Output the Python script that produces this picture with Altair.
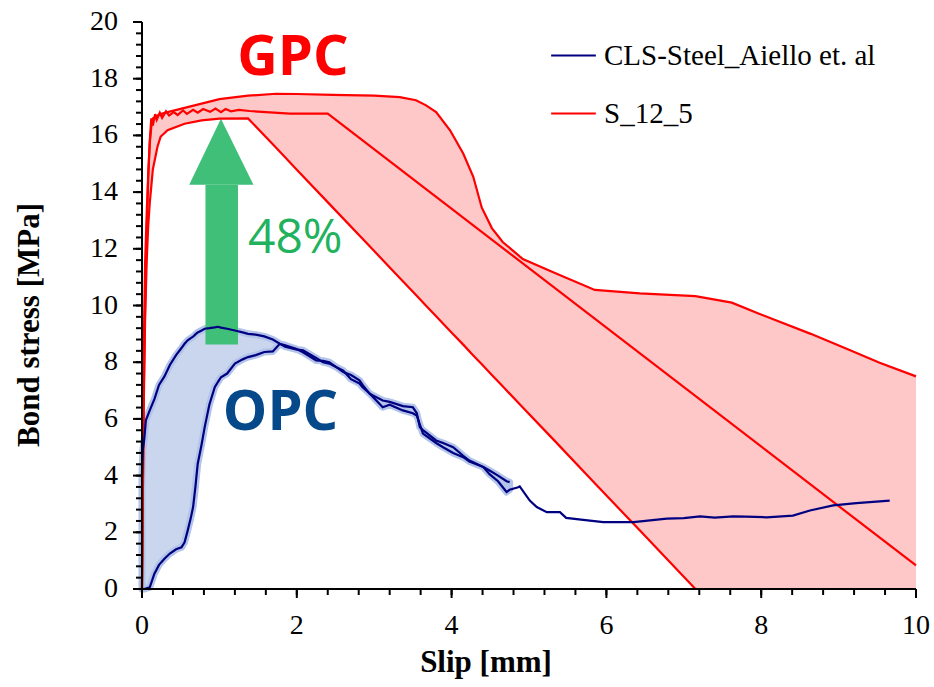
import altair as alt
import pandas as pd

# ---------------- S_12_5 (GPC): envelope grid, upper and lower curves ----------------
red_x = [0.0, 0.01, 0.02, 0.04, 0.06, 0.08, 0.10, 0.12, 0.14, 0.20, 0.24, 0.33, 0.55, 0.77, 1.00,
         1.37, 1.73, 2.00, 2.46, 3.00, 3.33, 3.54, 3.67, 3.80, 3.98, 4.15, 4.28, 4.39, 4.52, 4.66,
         4.92, 5.32, 5.85, 6.43, 7.15, 7.62, 7.98, 8.64, 9.08, 9.53, 10.0]
red_upper = [0, 4, 8, 11.5, 13.2, 14.6, 15.7, 16.3, 16.6, 16.7, 16.75, 16.82, 16.97, 17.12, 17.28,
             17.4, 17.47, 17.46, 17.43, 17.4, 17.35, 17.24, 17.06, 16.82, 16.18, 15.36, 14.54, 13.45, 12.73, 12.24,
             11.64, 11.16, 10.55, 10.43, 10.33, 10.1, 9.7, 9.0, 8.5, 7.98, 7.5]
red_lower = [0, 3, 6, 9.5, 11.5, 12.8, 13.6, 14.2, 14.8, 15.6, 15.95, 16.18, 16.41, 16.53, 16.59,
             16.6, 15.57, 14.79, 13.47, 11.92, 10.97, 10.37, 9.99, 9.62, 9.10, 8.62, 8.24, 7.93, 7.55, 7.15,
             6.40, 5.26, 3.73, 2.07, 0, 0, 0, 0, 0, 0, 0]
red_lower_end = 7.15  # the lower curve stops where it meets the slip axis

# middle curve
red_mid_x = [0.0, 0.01, 0.02, 0.04, 0.06, 0.08, 0.10, 0.12, 0.14, 0.17, 0.19, 0.23, 0.26, 0.31, 0.35,
             0.41, 0.46, 0.53, 0.58, 0.66, 0.72, 0.79, 0.88, 0.95, 1.02, 1.08, 1.15, 1.25, 1.39, 1.91,
             2.40, 10.0]
red_mid_y = [0, 3, 6.5, 10, 12.5, 14.5, 15.8, 16.6, 16.35, 16.75, 16.55, 16.8, 16.62, 16.85, 16.7,
             16.82, 16.72, 16.88, 16.76, 16.9, 16.8, 16.93, 16.83, 16.95, 16.82, 16.93, 16.85, 16.9, 16.86, 16.77,
             16.77, 0.83]

# ---------------- CLS-Steel_Aiello et. al (OPC) ----------------
blue_x = [0.00, 0.01, 0.03, 0.05, 0.10, 0.16, 0.22, 0.29, 0.36, 0.44, 0.51, 0.55, 0.59, 0.63, 0.66,
          0.69, 0.72, 0.77, 0.81, 0.87, 0.94, 0.98, 1.02, 1.10, 1.20, 1.30, 1.37, 1.47, 1.58, 1.69,
          1.78, 1.85, 1.99, 2.08, 2.25, 2.34, 2.42, 2.60, 2.70, 2.81, 2.85, 2.94, 3.11, 3.20, 3.37,
          3.50, 3.55, 3.59, 3.63, 3.80, 3.89, 4.02, 4.15, 4.23, 4.41, 4.49, 4.60, 4.71, 4.75]
blue_upper = [4.0, 4.9, 5.3, 5.95, 6.3, 6.7, 7.2, 7.5, 7.9, 8.25, 8.5, 8.65, 8.77, 8.85, 8.9,
              8.98, 9.05, 9.12, 9.18, 9.2, 9.23, 9.25, 9.22, 9.18, 9.12, 9.05, 9.0, 8.97, 8.91, 8.8,
              8.65, 8.6, 8.47, 8.35, 8.06, 8.05, 8.0, 7.65, 7.55, 7.36, 7.2, 6.89, 6.65, 6.6, 6.45,
              6.41, 6.2, 5.71, 5.6, 5.24, 5.15, 5.0, 4.7, 4.53, 4.3, 4.18, 4.0, 3.8, 3.77]
blue_lower = [0.0, 0.0, 0.0, 0.02, 0.06, 0.54, 0.85, 1.07, 1.25, 1.4, 1.47, 1.65, 2.06, 2.5, 2.89,
              3.6, 4.42, 5.1, 5.71, 6.5, 7.12, 7.3, 7.47, 7.6, 7.95, 8.1, 8.18, 8.25, 8.36, 8.38,
              8.65, 8.55, 8.45, 8.42, 8.15, 8.0, 7.95, 7.7, 7.4, 7.25, 7.12, 6.9, 6.41, 6.5, 6.3,
              6.2, 6.12, 5.8, 5.48, 5.15, 5.0, 4.8, 4.65, 4.5, 4.3, 4.05, 3.8, 3.42, 3.5]
blue_tail_x = [4.86, 4.88, 5.01, 5.10, 5.23, 5.40, 5.48, 5.70, 5.96, 6.35, 6.78, 7.00, 7.21, 7.40,
               7.64, 7.80, 8.07, 8.41, 8.63, 8.93, 9.23, 9.66]
blue_tail_y = [3.59, 3.62, 3.12, 2.89, 2.71, 2.71, 2.51, 2.44, 2.36, 2.36, 2.48, 2.50, 2.56, 2.52,
               2.56, 2.55, 2.53, 2.59, 2.77, 2.95, 3.03, 3.12]

series_names = ["CLS-Steel_Aiello et. al", "S_12_5"]
series_colors = ["#000080", "#ff0000"]

# arrow (48 % increase) and annotations
arrow_shaft = {"x": [0.82], "x2": [1.24], "y": [8.62], "y2": [14.26]}
arrow_head = {"x": [0.61, 1.02, 1.44], "y": [14.26, 16.59, 14.26], "y2": [14.26, 14.26, 14.26]}
gpc_label = {"x": [1.95], "y": [18.72], "t": ["GPC"]}
opc_label = {"x": [1.79], "y": [6.2], "t": ["OPC"]}
pct_label = {"x": [1.98], "y": [12.35], "t": ["48%"]}

# axis extents, tick positions, tick labels and titles
x_range = [0, 10]
y_range = [0, 20]
x_major = [0, 2, 4, 6, 8, 10]
y_major = [0, 2, 4, 6, 8, 10, 12, 14, 16, 18, 20]
x_tick_labels = ["0", "2", "4", "6", "8", "10"]
y_tick_labels = ["0", "2", "4", "6", "8", "10", "12", "14", "16", "18", "20"]
x_minor = [round(i * 0.4, 1) for i in range(26)]
y_minor = [round(i * 0.4, 1) for i in range(51)]
x_title = "Slip [mm]"
y_title = "Bond stress [MPa]"

SERIF = "Liberation Serif"
PLOT_W, PLOT_H = 774, 567
TICK_MAJOR, TICK_MINOR = 9, 6  # outward tick lengths in pixels

# ---------------- tables ----------------
red_band = pd.DataFrame({"x": red_x, "hi": red_upper, "lo": red_lower})
blue_band = pd.DataFrame({"x": blue_x, "hi": blue_upper, "lo": blue_lower})

rows = []
def add(curve, series, xs, ys):
    for i, (a, b) in enumerate(zip(xs, ys)):
        rows.append({"x": a, "y": b, "curve": curve, "series": series, "i": i})

add("A", "S_12_5", red_x, red_upper)
add("C", "S_12_5", [a for a in red_x if a <= red_lower_end],
    [b for a, b in zip(red_x, red_lower) if a <= red_lower_end])
add("B", "S_12_5", red_mid_x, red_mid_y)
add("U", "CLS-Steel_Aiello et. al", blue_x, blue_upper)
add("L", "CLS-Steel_Aiello et. al", blue_x + blue_tail_x, blue_lower + blue_tail_y)
lines = pd.DataFrame(rows)

# ---------------- scales ----------------
xscale = alt.Scale(domain=x_range, nice=False, zero=False)
yscale = alt.Scale(domain=y_range, nice=False, zero=False)

def X(f):
    return alt.X(f"{f}:Q", scale=xscale, axis=None)

def Y(f):
    return alt.Y(f"{f}:Q", scale=yscale, axis=None)

red_area = alt.Chart(red_band).mark_area(color="#ffc8c8").encode(
    x=X("x"), y=Y("hi"), y2="lo:Q")
blue_area = alt.Chart(blue_band).mark_area(
    fill="#c9d6ee", stroke="#b2c4e9", strokeWidth=7, strokeJoin="round"
).encode(x=X("x"), y=Y("hi"), y2="lo:Q")

shaft = alt.Chart(pd.DataFrame(arrow_shaft)).mark_rect(color="#3fbf78").encode(
    x=X("x"), x2="x2:Q", y=Y("y"), y2="y2:Q")
head = alt.Chart(pd.DataFrame(arrow_head)).mark_area(color="#3fbf78").encode(
    x=X("x"), y=Y("y"), y2="y2:Q")

line_layer = alt.Chart(lines).mark_line(strokeWidth=2.2).encode(
    x=X("x"), y=Y("y"),
    color=alt.Color("series:N", scale=alt.Scale(domain=series_names, range=series_colors),
                    legend=alt.Legend(title=None, orient="none", legendX=408, legendY=10,
                                      symbolType="stroke", symbolSize=2000, symbolStrokeWidth=2,
                                      labelFont=SERIF, labelFontSize=29, labelColor="black",
                                      rowPadding=19, labelOffset=7, padding=0, labelLimit=400)),
    detail="curve:N", order="i:Q")

def label(d, color, size, weight):
    return alt.Chart(pd.DataFrame(d)).mark_text(
        font="Open Sans", fontSize=size, fontWeight=weight, color=color,
        align="center", baseline="middle").encode(x=X("x"), y=Y("y"), text="t:N")

# ---------------- tick labels and titles ----------------
x_labels = alt.Chart(pd.DataFrame({"v": x_major, "t": x_tick_labels, "z": [y_range[0]] * len(x_major)})
                     ).mark_text(font=SERIF, fontSize=28, color="black", align="center",
                                 baseline="middle", dy=37).encode(x=X("v"), y=Y("z"), text="t:N")
y_labels = alt.Chart(pd.DataFrame({"v": y_major, "t": y_tick_labels, "z": [x_range[0]] * len(y_major)})
                     ).mark_text(font=SERIF, fontSize=28, color="black", align="right",
                                 baseline="middle", dx=-24).encode(y=Y("v"), x=X("z"), text="t:N")
x_title_mark = alt.Chart(pd.DataFrame({"t": [x_title]})).mark_text(
    font=SERIF, fontSize=31, fontWeight="bold", color="black", align="center", baseline="middle"
).encode(x=alt.value(344), y=alt.value(641), text="t:N")
y_title_mark = alt.Chart(pd.DataFrame({"t": [y_title]})).mark_text(
    font=SERIF, fontSize=31, fontWeight="bold", color="black", align="center", baseline="middle",
    angle=270
).encode(x=alt.value(-112), y=alt.value(303), text="t:N")

# ---------------- axis lines and ticks (thin rectangles, drawn last) ----------------
frame = pd.DataFrame({"x0": [x_range[0]], "x1": [x_range[1]], "y0": [y_range[0]], "y1": [y_range[1]]})
x_line = alt.Chart(frame).mark_rect(color="black", yOffset=-1, y2Offset=1).encode(
    x=X("x0"), x2="x1:Q", y=Y("y0"), y2="y0:Q")
y_line = alt.Chart(frame).mark_rect(color="black", xOffset=-1, x2Offset=1).encode(
    x=X("x0"), x2="x0:Q", y=Y("y0"), y2="y1:Q")

def xticks(vals, length):
    d = pd.DataFrame({"v": vals, "z": [y_range[0]] * len(vals)})
    return alt.Chart(d).mark_rect(color="black", xOffset=-1, x2Offset=1, y2Offset=length).encode(
        x=X("v"), x2="v:Q", y=Y("z"), y2="z:Q")

def yticks(vals, length):
    d = pd.DataFrame({"v": vals, "z": [x_range[0]] * len(vals)})
    return alt.Chart(d).mark_rect(color="black", yOffset=-1, y2Offset=1, xOffset=-length).encode(
        y=Y("v"), y2="v:Q", x=X("z"), x2="z:Q")

chart = alt.layer(
    red_area, blue_area, shaft, head, line_layer,
    label(gpc_label, "#ff0000", 56, "bold"),
    label(opc_label, "#05498a", 56, "bold"),
    label(pct_label, "#22b25e", 48, "normal"),
    x_labels, y_labels, x_title_mark, y_title_mark,
    xticks(x_minor, TICK_MINOR), xticks(x_major, TICK_MAJOR),
    yticks(y_minor, TICK_MINOR), yticks(y_major, TICK_MAJOR),
    x_line, y_line,
).properties(
    width=PLOT_W, height=PLOT_H,
    autosize=alt.AutoSizeParams(type="none"),
    padding={"left": 142, "top": 22, "right": 18, "bottom": 98},
    background="white",
).configure_view(stroke=None)

chart.save("out.html", embed_options={"renderer": "svg", "actions": False})
